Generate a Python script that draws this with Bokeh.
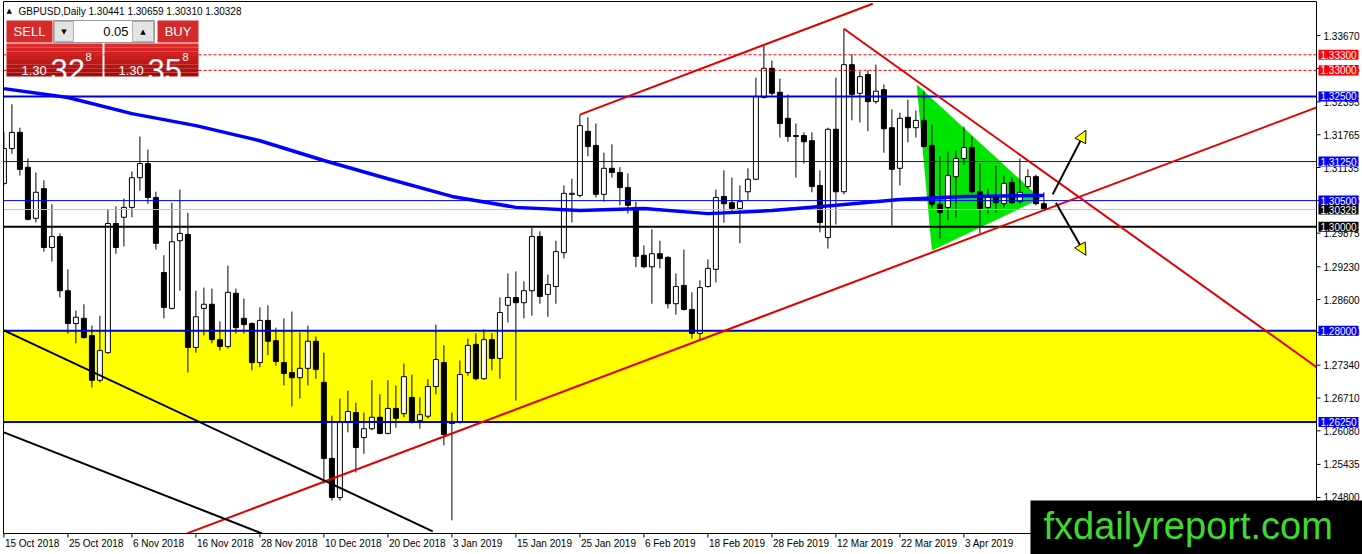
from bokeh.plotting import figure
from bokeh.models import Range1d, Arrow, NormalHead
from bokeh.core.properties import value
from bokeh.embed import file_html
from bokeh.resources import INLINE

FONT = "Liberation Sans"

# ---- GBPUSD daily candles (bar 0 = 15 Oct 2018) ----
opens = [1.3083, 1.3150, 1.3181, 1.3114, 1.3016, 1.3073, 1.2960, 1.2981, 1.2877, 1.2814,
         1.2824, 1.2791, 1.2705, 1.2758, 1.3006, 1.3018, 1.3037, 1.3094, 1.3121, 1.3056,
         1.2912, 1.2843, 1.2973, 1.2985, 1.2768, 1.2843, 1.2851, 1.2783, 1.2770, 1.2872,
         1.2824, 1.2814, 1.2739, 1.2820, 1.2781, 1.2739, 1.2720, 1.2710, 1.2728, 1.2780,
         1.2701, 1.2555, 1.2480, 1.2624, 1.2643, 1.2595, 1.2612, 1.2634, 1.2603, 1.2651,
         1.2641, 1.2672, 1.2628, 1.2636, 1.2693, 1.2739, 1.2626, 1.2624, 1.2720, 1.2774,
         1.2708, 1.2783, 1.2747, 1.2849, 1.2864, 1.2854, 1.2877, 1.2981, 1.2870, 1.2885,
         1.2950, 1.3062, 1.3060, 1.3183, 1.3156, 1.3062, 1.3112, 1.3104, 1.3075, 1.3037,
         1.2945, 1.2923, 1.2948, 1.2941, 1.2852, 1.2887, 1.2841, 1.2795, 1.2885, 1.2918,
         1.3058, 1.3046, 1.3035, 1.3067, 1.3091, 1.3248, 1.3304, 1.3258, 1.3208, 1.3173,
         1.3175, 1.3165, 1.3079, 1.2979, 1.3187, 1.3067, 1.3311, 1.3256, 1.3292, 1.3240,
         1.3263, 1.3190, 1.3112, 1.3210, 1.3190, 1.3204, 1.3156, 1.3043, 1.3037, 1.3096,
         1.3131, 1.3152, 1.3067, 1.3037, 1.3056, 1.3044, 1.3085, 1.3048, 1.3077, 1.3096,
         1.30441]
highs = [1.3181, 1.3235, 1.3190, 1.3131, 1.3104, 1.3089, 1.3043, 1.2987, 1.2918, 1.2839,
         1.2851, 1.2810, 1.2829, 1.3033, 1.3039, 1.3054, 1.3106, 1.3173, 1.3148, 1.3067,
         1.2945, 1.3046, 1.3071, 1.3027, 1.2877, 1.2883, 1.2881, 1.2818, 1.2925, 1.2881,
         1.2862, 1.2816, 1.2845, 1.2849, 1.2806, 1.2824, 1.2837, 1.2797, 1.2810, 1.2789,
         1.2758, 1.2637, 1.2670, 1.2685, 1.2662, 1.2643, 1.2705, 1.2678, 1.2705, 1.2695,
         1.2737, 1.2716, 1.2672, 1.2707, 1.2812, 1.2772, 1.2643, 1.2743, 1.2785, 1.2795,
         1.2803, 1.2795, 1.2864, 1.2910, 1.2914, 1.2895, 1.2998, 1.2991, 1.2908, 1.2973,
         1.3079, 1.3092, 1.3215, 1.3210, 1.3198, 1.3142, 1.3158, 1.3114, 1.3102, 1.3048,
         1.2964, 1.2995, 1.2973, 1.2943, 1.2910, 1.2956, 1.2874, 1.2897, 1.2937, 1.3071,
         1.3108, 1.3094, 1.3079, 1.3112, 1.3286, 1.3348, 1.3319, 1.3284, 1.3254, 1.3198,
         1.3181, 1.3181, 1.3108, 1.3190, 1.3286, 1.3380, 1.3331, 1.3298, 1.3300, 1.3311,
         1.3273, 1.3225, 1.3219, 1.3244, 1.3223, 1.3261, 1.3196, 1.3135, 1.3144, 1.3146,
         1.3192, 1.3173, 1.3121, 1.3073, 1.3117, 1.3098, 1.3094, 1.3131, 1.3110, 1.3100,
         1.30659]
lows = [1.3079, 1.3140, 1.3098, 1.3012, 1.3008, 1.2952, 1.2933, 1.2864, 1.2795, 1.2776,
        1.2785, 1.2691, 1.2701, 1.2756, 1.2948, 1.2962, 1.3018, 1.3069, 1.3044, 1.2956,
        1.2824, 1.2841, 1.2877, 1.2720, 1.2758, 1.2791, 1.2776, 1.2762, 1.2766, 1.2795,
        1.2795, 1.2724, 1.2730, 1.2753, 1.2733, 1.2695, 1.2655, 1.2670, 1.2695, 1.2708,
        1.2507, 1.2474, 1.2474, 1.2605, 1.2528, 1.2564, 1.2609, 1.2601, 1.2601, 1.2614,
        1.2634, 1.2622, 1.2612, 1.2632, 1.2678, 1.2580, 1.2436, 1.2622, 1.2714, 1.2705,
        1.2706, 1.2724, 1.2708, 1.2816, 1.2666, 1.2824, 1.2829, 1.2852, 1.2827, 1.2852,
        1.2939, 1.3008, 1.3056, 1.3135, 1.3056, 1.3048, 1.3094, 1.3041, 1.3025, 1.2922,
        1.2920, 1.2852, 1.2920, 1.2843, 1.2831, 1.2839, 1.2785, 1.2781, 1.2883, 1.2893,
        1.3008, 1.3025, 1.2968, 1.3050, 1.3089, 1.3246, 1.3252, 1.3171, 1.3163, 1.3094,
        1.3121, 1.3066, 1.2989, 1.2958, 1.3004, 1.3062, 1.3204, 1.3200, 1.3183, 1.3236,
        1.3142, 1.3002, 1.3079, 1.3162, 1.3171, 1.3152, 1.3037, 1.2977, 1.3012, 1.3018,
        1.3119, 1.3064, 1.2987, 1.3025, 1.3027, 1.3037, 1.3044, 1.3044, 1.3073, 1.3041,
        1.30310]
closes = [1.3150, 1.3181, 1.3110, 1.3014, 1.3066, 1.2960, 1.2981, 1.2877, 1.2814, 1.2826,
          1.2787, 1.2705, 1.2762, 1.3006, 1.2960, 1.3037, 1.3094, 1.3121, 1.3056, 1.2968,
          1.2845, 1.2971, 1.2987, 1.2768, 1.2827, 1.2851, 1.2783, 1.2770, 1.2874, 1.2806,
          1.2812, 1.2739, 1.2820, 1.2780, 1.2741, 1.2718, 1.2710, 1.2728, 1.2780, 1.2726,
          1.2555, 1.2480, 1.2624, 1.2645, 1.2576, 1.2612, 1.2634, 1.2603, 1.2651, 1.2632,
          1.2712, 1.2624, 1.2639, 1.2693, 1.2745, 1.2601, 1.2622, 1.2716, 1.2772, 1.2708,
          1.2783, 1.2747, 1.2835, 1.2864, 1.2854, 1.2877, 1.2981, 1.2866, 1.2889, 1.2952,
          1.3064, 1.3064, 1.3194, 1.3154, 1.3062, 1.3112, 1.3104, 1.3075, 1.3041, 1.2943,
          1.2923, 1.2948, 1.2939, 1.2852, 1.2885, 1.2841, 1.2795, 1.2883, 1.2920, 1.3056,
          1.3044, 1.3035, 1.3048, 1.3091, 1.3250, 1.3304, 1.3256, 1.3198, 1.3173, 1.3175,
          1.3163, 1.3077, 1.3008, 1.3187, 1.3067, 1.3311, 1.3254, 1.3288, 1.3240, 1.3260,
          1.3188, 1.3110, 1.3208, 1.3190, 1.3204, 1.3154, 1.3043, 1.3027, 1.3098, 1.3131,
          1.3152, 1.3067, 1.3035, 1.3056, 1.3046, 1.3083, 1.3046, 1.3066, 1.3096, 1.3044,
          1.30328]

date_labels = ["15 Oct 2018", "25 Oct 2018", "6 Nov 2018", "16 Nov 2018", "28 Nov 2018",
               "10 Dec 2018", "20 Dec 2018", "3 Jan 2019", "15 Jan 2019", "25 Jan 2019",
               "6 Feb 2019", "18 Feb 2019", "28 Feb 2019", "12 Mar 2019", "22 Mar 2019",
               "3 Apr 2019"]
date_step = 8

# moving average (blue), sampled every 8 bars
ma_bars = [0, 8, 16, 24, 32, 40, 48, 56, 64, 72, 80, 88, 96, 104, 112, 120, 130]
ma_vals = [1.3265, 1.3248, 1.3217, 1.3194, 1.3165, 1.3127, 1.3092, 1.3058, 1.3037,
           1.3031, 1.3035, 1.3025, 1.3031, 1.3041, 1.3052, 1.3058, 1.3060]

price_ticks = [1.33670, 1.33035, 1.32395, 1.31765, 1.31135, 1.30505, 1.29875, 1.29230,
               1.28600, 1.27970, 1.27340, 1.26710, 1.26080, 1.25435, 1.24800]

# horizontal levels
red_levels = [1.3330, 1.3300]
blue_thick_levels = [1.3250, 1.2800, 1.2625]
blue_thin_levels = [1.3125, 1.3050]
bid_level = 1.30328
round_level = 1.3000
zone_top, zone_bottom = 1.2800, 1.2625

# price tags on the scale
tag_levels = [1.33300, 1.33000, 1.32500, 1.31250, 1.30500, 1.30328, 1.30000, 1.28000, 1.26250]
tag_kinds = ["red", "red", "blue", "blue", "blue", "black", "black", "blue", "blue"]

# drawn objects (bar, price)
support_x, support_y = [22.9, 164.1], [1.2411, 1.3229]
resist_x, resist_y = [105.0, 164.1], [1.3380, 1.2730]
channel_x, channel_y = [72.0, 108.6], [1.3215, 1.3428]
down1_x, down1_y = [0.0, 53.6], [1.2801, 1.2415]
down2_x, down2_y = [0.0, 32.25], [1.2605, 1.2411]
pennant_x, pennant_y = [114.1, 116.0, 129.6], [1.3273, 1.2954, 1.3054]
arrow_up = (131.1, 1.3062, 135.25, 1.3185)
arrow_down = (131.5, 1.3046, 135.25, 1.2945)

sell_price = ("1.30", "32", "8")
buy_price = ("1.30", "35", "8")
lot_size = "0.05"
header = "GBPUSD,Daily  1.30441 1.30659 1.30310 1.30328"
watermark = "fxdailyreport.com"

# ---- layout: screenshot pixels <-> chart scale (8 px per bar) ----
W, H = 1362, 554
X0 = -0.05
PX = 0.000192
P0 = 1.34342
LEFT, TOP, RIGHT, BOTTOM = 3, 1, 1316, 533


def rx(px):
    return X0 + (px - 3) / 8.0


def ry(py):
    return P0 - py * PX


p = figure(width=W, height=H, x_range=Range1d(rx(0), rx(W)), y_range=Range1d(ry(H), ry(0)),
           x_axis_location=None, y_axis_location=None, output_backend="svg", toolbar_location=None,
           min_border=0)
p.grid.visible = False
p.outline_line_color = None
p.background_fill_color = "white"
p.border_fill_color = "white"

XL, XR, YT, YB = rx(LEFT), rx(RIGHT), ry(TOP), ry(BOTTOM)

# background zone and pennant
p.quad(left=XL, right=XR, bottom=zone_bottom, top=zone_top, fill_color="#ffff00", line_color=None)
p.patch(pennant_x, pennant_y, fill_color="#00e600", line_color=None)

# candles
n = len(opens)
bars = list(range(n))
up = [i for i in bars if closes[i] >= opens[i]]
dn = [i for i in bars if closes[i] < opens[i]]
p.segment(bars, highs, bars, lows, line_color="black", line_width=1)
p.vbar(x=up, width=0.62, bottom=[opens[i] for i in up], top=[closes[i] for i in up],
       fill_color="white", line_color="black", line_width=1)
p.vbar(x=dn, width=0.62, bottom=[closes[i] for i in dn], top=[opens[i] for i in dn],
       fill_color="black", line_color="black", line_width=1)

# horizontal lines
for lv in red_levels:
    p.line([XL, XR], [lv, lv], line_color="#ff0000", line_width=1, line_dash="3 2")
for lv in blue_thin_levels:
    p.line([XL, XR], [lv, lv], line_color="#0000ff", line_width=1)
p.line([XL, XR], [bid_level, bid_level], line_color="#c0c0c0", line_width=1)
p.line([XL, XR], [round_level, round_level], line_color="black", line_width=2)
for lv in blue_thick_levels:
    p.line([XL, XR], [lv, lv], line_color="#0000cd", line_width=2)

# trend lines
for xs, ys in [(support_x, support_y), (resist_x, resist_y), (channel_x, channel_y)]:
    p.line(xs, ys, line_color="#e00000", line_width=2)
for xs, ys in [(down1_x, down1_y), (down2_x, down2_y)]:
    p.line(xs, ys, line_color="black", line_width=2)

p.line(ma_bars, ma_vals, line_color="#0000ff", line_width=3.5)

for a in (arrow_up, arrow_down):
    p.add_layout(Arrow(end=NormalHead(size=12, fill_color="#ffff00", line_color="black", line_width=1),
                       x_start=a[0], y_start=a[1], x_end=a[2], y_end=a[3],
                       line_color="black", line_width=2))

# white margins outside the chart window, then its border
p.quad(left=[rx(0), XR, rx(0), rx(0)], right=[XL, rx(W), rx(W), rx(W)],
       bottom=[ry(H), ry(H), YT, ry(H)], top=[ry(0), ry(0), ry(0), YB],
       fill_color="white", line_color=None)
p.line([XL, XL, XR, XR, XL], [YB, YT, YT, YB, YB], line_color="black", line_width=1)

# price scale
p.segment([XR] * len(price_ticks), price_ticks, [rx(RIGHT + 4)] * len(price_ticks), price_ticks,
          line_color="black", line_width=1)
p.text(x=[rx(RIGHT + 7)] * len(price_ticks), y=price_ticks, text=["%.5f" % t for t in price_ticks],
       text_color="black", text_font=value(FONT), text_font_size="10px",
       text_align="left", text_baseline="middle")

tag_fill = {"red": "#ff0000", "blue": "#0000ff", "black": "#000000"}
p.quad(left=rx(RIGHT + 2), right=rx(RIGHT + 42), bottom=[lv - 5 * PX for lv in tag_levels],
       top=[lv + 5 * PX for lv in tag_levels], fill_color=[tag_fill[k] for k in tag_kinds], line_color=None)
p.text(x=[rx(RIGHT + 4)] * len(tag_levels), y=tag_levels, text=["%.5f" % lv for lv in tag_levels],
       text_color="white", text_font=value(FONT), text_font_size="10px",
       text_align="left", text_baseline="middle")

# time scale
date_bars = [i * date_step for i in range(len(date_labels))]
p.segment(date_bars, [YB] * len(date_bars), date_bars, [ry(BOTTOM + 4)] * len(date_bars),
          line_color="black", line_width=1)
p.text(x=date_bars, y=[ry(BOTTOM + 10)] * len(date_bars), text=date_labels, x_offset=1,
       text_color="black", text_font=value(FONT), text_font_size="10px",
       text_align="left", text_baseline="middle")

# ---- one-click trading panel ----


def hexmix(c1, c2, t):
    a = [int(c1[i:i + 2], 16) for i in (1, 3, 5)]
    b = [int(c2[i:i + 2], 16) for i in (1, 3, 5)]
    return "#" + "".join("%02x" % round(a[k] + (b[k] - a[k]) * t) for k in range(3))


p.quad(left=[rx(6), rx(157)], right=[rx(52), rx(198)], top=[ry(20), ry(20)], bottom=[ry(42), ry(42)],
       fill_color="#d42a2a", line_color=None)
p.quad(left=rx(53), right=rx(154), top=ry(20), bottom=ry(42), fill_color="white", line_color="#9a9a9a")
p.quad(left=[rx(54), rx(132)], right=[rx(73), rx(153)], top=[ry(21), ry(21)], bottom=[ry(41), ry(41)],
       fill_color="#e4e4e4", line_color="#b0b0b0")
nb = 8
for k in range(nb):
    t0 = 43 + 33 * k / nb
    t1 = 43 + 33 * (k + 1) / nb
    col = hexmix("#de2b2b", "#a80a0a", k / (nb - 1))
    p.quad(left=[rx(6), rx(104)], right=[rx(102), rx(198)], top=[ry(t0), ry(t0)],
           bottom=[ry(t1), ry(t1)], fill_color=col, line_color=None)

p.text(x=[rx(29), rx(177.5)], y=[ry(31), ry(31)], text=["SELL", "BUY"], text_color="white",
       text_font=value(FONT), text_font_size="13px", text_align="center", text_baseline="middle")
p.text(x=[rx(63.5), rx(142.5)], y=[ry(31), ry(31)], text=["\u25bc", "\u25b2"], text_color="black",
       text_font=value("DejaVu Sans"), text_font_size="7px", text_align="center", text_baseline="middle")
p.text(x=[rx(128)], y=[ry(31)], text=[lot_size], text_color="black", text_font=value(FONT),
       text_font_size="13px", text_align="right", text_baseline="middle")

for px0, quote in [(21, sell_price), (118, buy_price)]:
    p.text(x=[rx(px0)], y=[ry(70)], text=[quote[0]], text_color="white", text_font=value(FONT),
           text_font_size="13px", text_align="left", text_baseline="alphabetic")
    p.text(x=[rx(px0 + 29)], y=[ry(69)], text=[quote[1]], text_color="white", text_font=value(FONT),
           text_font_size="31px", text_align="left", text_baseline="alphabetic")
    p.text(x=[rx(px0 + 64)], y=[ry(56)], text=[quote[2]], text_color="white", text_font=value(FONT),
           text_font_size="11px", text_align="left", text_baseline="alphabetic")

p.text(x=[rx(6)], y=[ry(10.5)], text=["\u25b2"], text_color="black", text_font=value("DejaVu Sans"),
       text_font_size="7px", text_align="left", text_baseline="middle")
p.text(x=[rx(18)], y=[ry(10.5)], text=[header], text_color="black", text_font=value(FONT),
       text_font_size="10px", text_align="left", text_baseline="middle")

# ---- watermark ----
p.quad(left=rx(1030), right=rx(W), bottom=ry(H), top=ry(500), fill_color="black", line_color=None)
p.text(x=[rx(1043)], y=[ry(525)], text=[watermark], text_color="#40d830", text_font=value(FONT),
       text_font_size="38px", text_align="left", text_baseline="middle")

open("out.html", "w").write(file_html(p, INLINE))
